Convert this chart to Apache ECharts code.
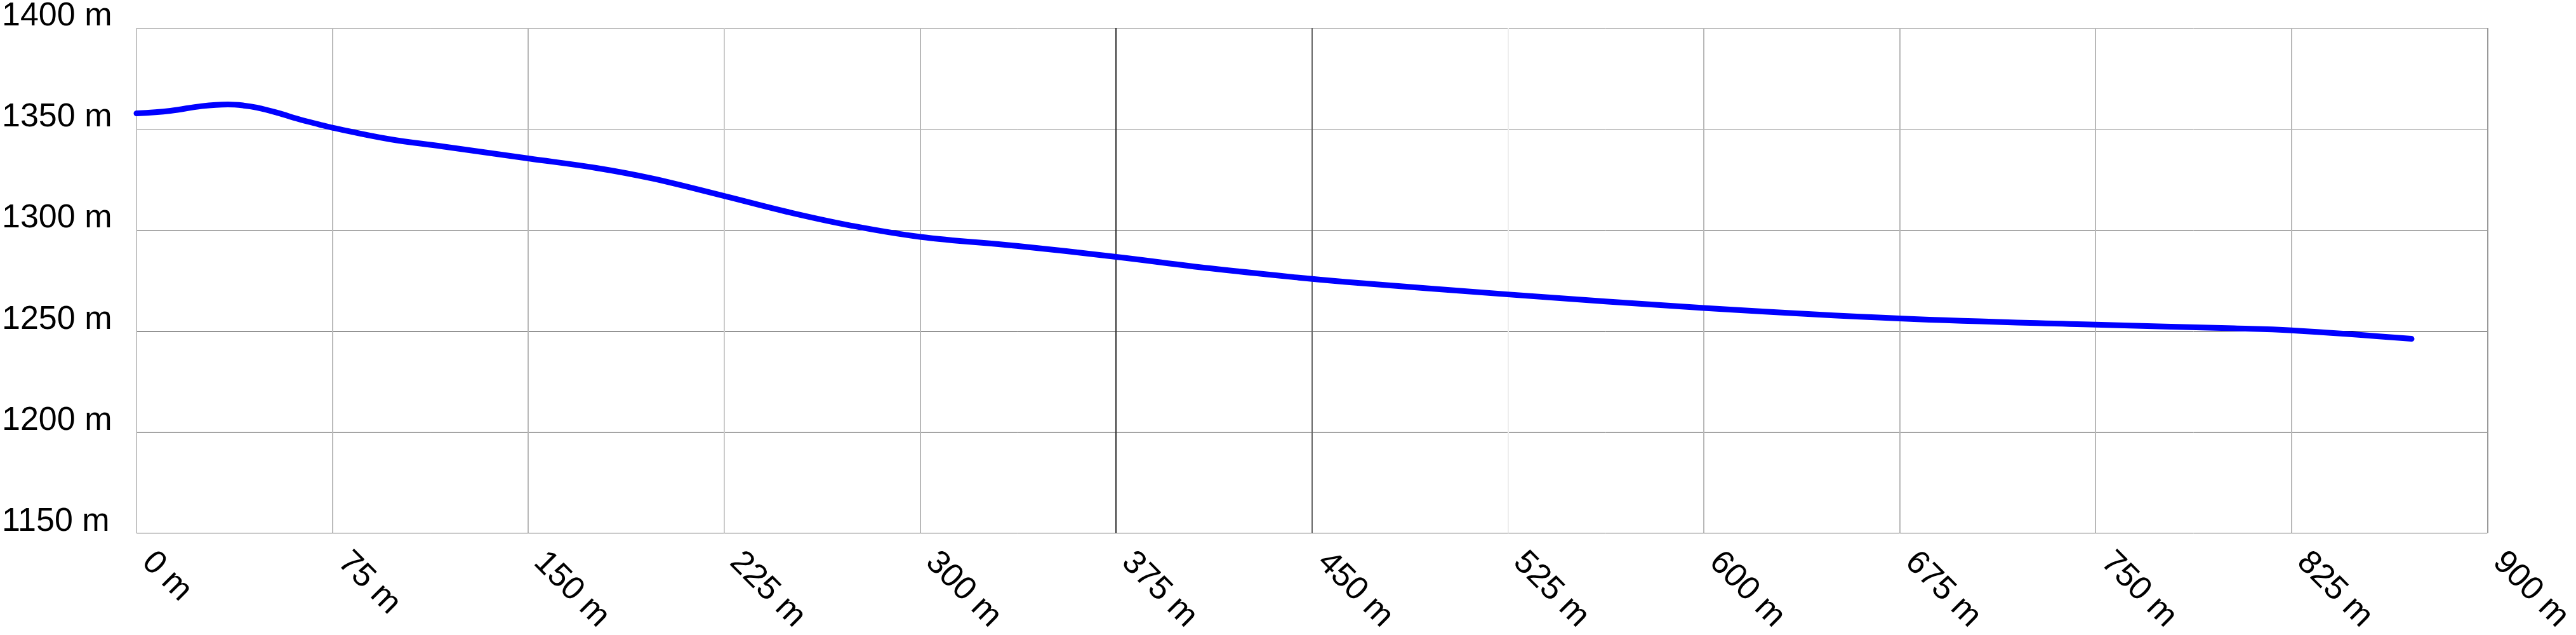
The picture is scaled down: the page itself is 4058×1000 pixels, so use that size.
<!DOCTYPE html>
<html>
<head>
<meta charset="utf-8">
<script src="https://cdn.jsdelivr.net/npm/echarts@6/dist/echarts.min.js"></script>
<style>
html,body{margin:0;padding:0;background:#fff;}
#chart{width:4058px;height:1000px;}
</style>
</head>
<body>
<div id="chart"></div>
<script>
// distance along route (m)
var distances = [0, 13, 25, 35, 41, 46, 54, 62, 70, 75, 97, 117, 150, 176, 197, 225, 249, 273, 300, 337, 375, 411, 445, 463, 525, 600, 675, 750, 803, 825, 871];
// elevation (m)
var elevations = [1357.7, 1359.0, 1361.3, 1362.1, 1361.6, 1360.6, 1358.0, 1354.9, 1352.2, 1350.6, 1344.9, 1341.4, 1335.4, 1330.7, 1325.6, 1316.8, 1309.0, 1302.3, 1296.6, 1292.1, 1286.7, 1281.0, 1276.4, 1274.3, 1268.1, 1261.4, 1256.2, 1253.1, 1251.3, 1250.3, 1246.1];
// axis tick settings
var xTicks = {min: 0, max: 900, interval: 75};
var yTicks = {min: 1150, max: 1400, interval: 50};

var points = distances.map(function (d, i) { return [d, elevations[i]]; });

var chart = echarts.init(document.getElementById('chart'), null, {renderer: 'canvas'});
chart.setOption({
  backgroundColor: '#ffffff',
  animation: false,
  grid: {left: 212, right: 126, top: 42, bottom: 153, containLabel: false},
  xAxis: {
    type: 'value',
    min: xTicks.min, max: xTicks.max, interval: xTicks.interval,
    axisLine: {show: false},
    axisTick: {show: false},
    splitLine: {show: true, lineStyle: {width: 2, color: ['#c4c4c4', '#bbbbbb', '#b8b8b8', '#cccccc', '#b8b8b8', '#333333', '#666666', '#eeeeee', '#b8b8b8', '#b8b8b8', '#b8b8b8', '#b8b8b8', '#999999']}},
    axisLabel: {
      rotate: -45,
      margin: 21,
      padding: [0, 0, 0, 24],
      color: '#000',
      fontFamily: '"Liberation Sans", Arial, sans-serif',
      fontSize: 52,
      formatter: function (v) { return v + ' m'; },
      showMinLabel: true, showMaxLabel: true,
      hideOverlap: false
    }
  },
  yAxis: {
    type: 'value',
    min: yTicks.min, max: yTicks.max, interval: yTicks.interval,
    axisLine: {show: false},
    axisTick: {show: false},
    splitLine: {show: true, lineStyle: {width: 1, color: ['#666666', '#1a1a1a', '#111111', '#555555', '#999999', '#999999']}},
    axisLabel: {
      align: 'left',
      verticalAlign: 'bottom',
      lineHeight: 36,
      margin: 212,
      color: '#000',
      fontFamily: '"Liberation Sans", Arial, sans-serif',
      fontSize: 52,
      formatter: function (v) { return v + ' m'; },
      showMinLabel: true, showMaxLabel: true
    }
  },
  series: [{
    type: 'line',
    data: points,
    smooth: 0.4,
    showSymbol: false,
    symbol: 'none',
    lineStyle: {color: '#0000ff', width: 9, cap: 'round', join: 'round'}
  }]
});
</script>
</body>
</html>
